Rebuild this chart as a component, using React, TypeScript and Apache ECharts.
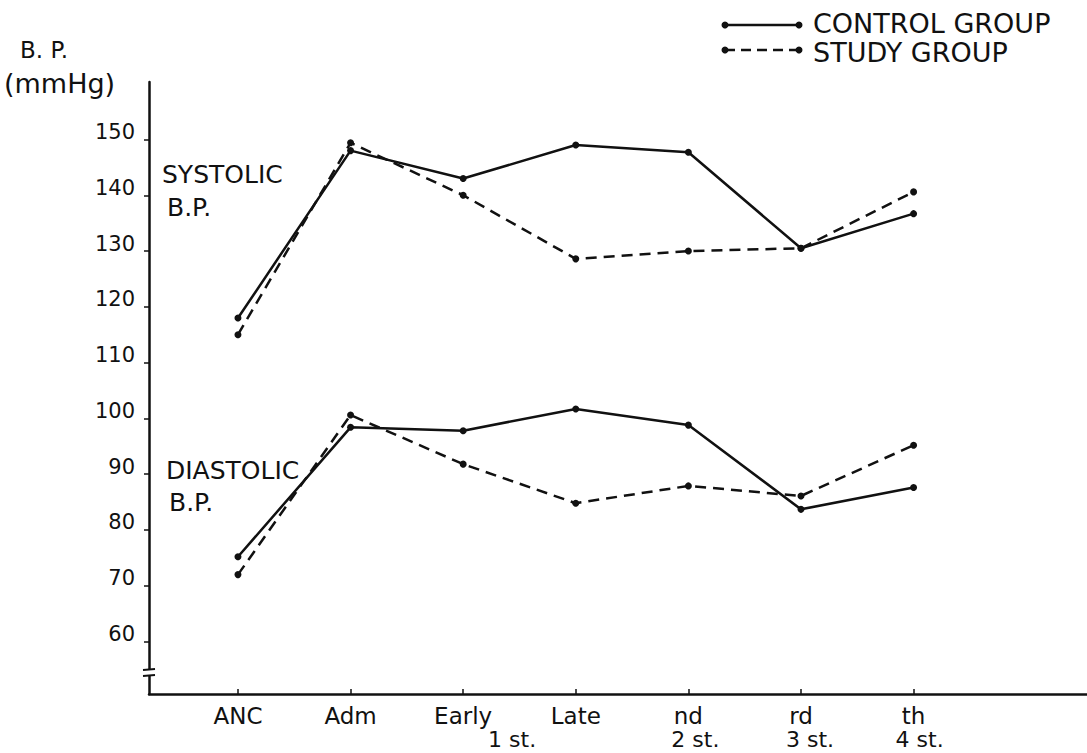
import React, { useEffect, useRef } from "react";
import * as echarts from "echarts";

const categories = ["ANC", "Adm", "Early", "Late", "nd", "rd", "th"];
const stageLabels = ["", "", "1 st.", "", "2 st.", "3 st.", "4 st."];
const yTicks = [60, 70, 80, 90, 100, 110, 120, 130, 140, 150];

const controlSystolic = [118, 148, 143, 149, 147.7, 130.5, 136.7];
const studySystolic = [115, 149.4, 140, 128.6, 130, 130.5, 140.6];
const controlDiastolic = [75.2, 98.4, 97.8, 101.7, 98.8, 83.7, 87.6];
const studyDiastolic = [72, 100.6, 91.8, 84.8, 87.9, 86.1, 95.2];

const INK = "#111";
const FONT = "DejaVu Sans";
const stageShift = [0, 0, 98, 0, 14, 18, 12];

const toPairs = (arr: number[]) => arr.map((v, i) => [i, v]);

export default function App() {
  const ref = useRef<HTMLDivElement>(null);
  useEffect(() => {
    if (!ref.current) return;
    const chart = echarts.init(ref.current, undefined, { renderer: "svg" });
    const rich: any = {
      a: { fontSize: 23, lineHeight: 24, fontFamily: FONT, color: INK },
    };
    stageShift.forEach((s, i) => {
      rich["b" + i] = {
        fontSize: 22,
        lineHeight: 22,
        fontFamily: FONT,
        color: INK,
        padding: [0, 0, 0, s],
      };
    });
    const lineSeries = (name: string, data: number[], dashed: boolean) => ({
      name,
      type: "line",
      data: toPairs(data),
      symbol: "circle",
      symbolSize: 7,
      itemStyle: { color: INK },
      lineStyle: {
        color: INK,
        width: 2.5,
        type: dashed ? [11, 7] : "solid",
      },
      z: 3,
    });
    const option: any = {
      animation: false,
      backgroundColor: "#fff",
      grid: { left: 149, right: 0, top: 82, bottom: 59 },
      xAxis: {
        type: "value",
        min: -0.79,
        max: 7.54,
        splitLine: { show: false },
        axisLine: { show: true, onZero: false, lineStyle: { color: INK, width: 2.5 } },
        axisTick: {
          show: true,
          inside: true,
          length: 5,
          customValues: categories.map((_, i) => i),
          lineStyle: { color: INK, width: 1.5 },
        },
        axisLabel: {
          margin: 10,
          customValues: categories.map((_, i) => i),
          formatter: (v: number) => {
            const i = Math.round(v);
            const top = "{a|" + categories[i] + "}";
            return stageLabels[i] ? top + "\n{b" + i + "|" + stageLabels[i] + "}" : top;
          },
          rich,
        },
      },
      yAxis: {
        type: "value",
        min: 50.6,
        max: 160.3,
        splitLine: { show: false },
        axisLine: { show: true, onZero: false, lineStyle: { color: INK, width: 2.5 } },
        axisTick: {
          show: true,
          length: 5,
          customValues: yTicks,
          lineStyle: { color: INK, width: 1.5 },
        },
        axisLabel: {
          customValues: yTicks,
          margin: 14,
          fontSize: 21,
          lineHeight: 15,
          verticalAlign: "bottom",
          fontFamily: FONT,
          color: INK,
        },
      },
      series: [
        lineSeries("CONTROL GROUP systolic", controlSystolic, false),
        lineSeries("STUDY GROUP systolic", studySystolic, true),
        lineSeries("CONTROL GROUP diastolic", controlDiastolic, false),
        lineSeries("STUDY GROUP diastolic", studyDiastolic, true),
      ],
      graphic: [
        // y-axis title
        { type: "text", x: 20, y: 50, style: { text: "B. P.", font: `23px "${FONT}"`, fill: INK, verticalAlign: "middle" } },
        { type: "text", x: 4, y: 83, style: { text: "(mmHg)", font: `27px "${FONT}"`, fill: INK, verticalAlign: "middle" } },
        // annotations
        { type: "text", x: 162, y: 174, style: { text: "SYSTOLIC", font: `25px "${FONT}"`, fill: INK, verticalAlign: "middle" } },
        { type: "text", x: 167, y: 207, style: { text: "B.P.", font: `25px "${FONT}"`, fill: INK, verticalAlign: "middle" } },
        { type: "text", x: 166, y: 470, style: { text: "DIASTOLIC", font: `25px "${FONT}"`, fill: INK, verticalAlign: "middle" } },
        { type: "text", x: 169, y: 502, style: { text: "B.P.", font: `25px "${FONT}"`, fill: INK, verticalAlign: "middle" } },
        // legend
        { type: "line", shape: { x1: 725, y1: 25, x2: 799, y2: 25 }, style: { stroke: INK, lineWidth: 2.5 } },
        { type: "circle", shape: { cx: 725, cy: 25, r: 3.5 }, style: { fill: INK } },
        { type: "circle", shape: { cx: 799, cy: 25, r: 3.5 }, style: { fill: INK } },
        { type: "text", x: 813, y: 23, style: { text: "CONTROL GROUP", font: `27px "${FONT}"`, fill: INK, verticalAlign: "middle" } },
        { type: "line", shape: { x1: 725, y1: 50, x2: 799, y2: 50 }, style: { stroke: INK, lineWidth: 2.5, lineDash: [10, 6] } },
        { type: "circle", shape: { cx: 725, cy: 50, r: 3.5 }, style: { fill: INK } },
        { type: "circle", shape: { cx: 799, cy: 50, r: 3.5 }, style: { fill: INK } },
        { type: "text", x: 813, y: 52, style: { text: "STUDY GROUP", font: `27px "${FONT}"`, fill: INK, verticalAlign: "middle" } },
        // axis break
        { type: "rect", shape: { x: 145, y: 670, width: 8, height: 6 }, style: { fill: "#fff" }, z: 10 },
        { type: "line", shape: { x1: 143, y1: 670, x2: 155, y2: 669 }, style: { stroke: INK, lineWidth: 1.8 }, z: 11 },
        { type: "line", shape: { x1: 143, y1: 676, x2: 155, y2: 675 }, style: { stroke: INK, lineWidth: 1.8 }, z: 11 },
      ],
    };
    chart.setOption(option);
    return () => chart.dispose();
  }, []);
  return (
    <div
      ref={ref}
      style={{ position: "fixed", left: 0, top: 0, width: 1087, height: 753, background: "#fff" }}
    />
  );
}
